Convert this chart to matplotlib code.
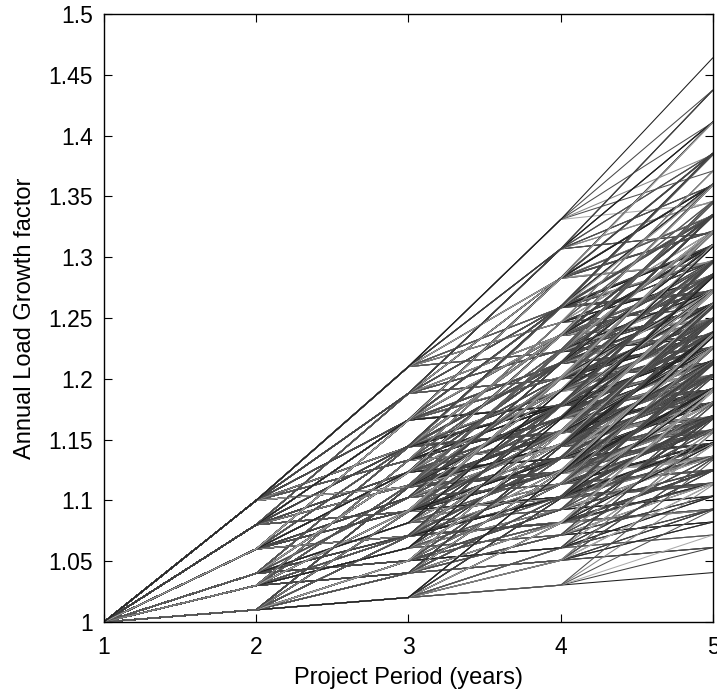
import itertools
import numpy as np
import matplotlib
matplotlib.use("Agg")
import matplotlib.pyplot as plt
from matplotlib.collections import LineCollection

years = [1, 2, 3, 4, 5]
growth_rates = [0.01, 0.03, 0.04, 0.06, 0.08, 0.10]

# grey levels of the (printed) MATLAB colour order: b, g, r, c, m, y, k
line_greys = ['0.11', '0.29', '0.30', '0.53', '0.31', '0.67', '0.25']

xticks = [1, 2, 3, 4, 5]
yticks = [1, 1.05, 1.1, 1.15, 1.2, 1.25, 1.3, 1.35, 1.4, 1.45, 1.5]
ytick_labels = ['1', '1.05', '1.1', '1.15', '1.2', '1.25', '1.3', '1.35', '1.4', '1.45', '1.5']

plt.rcParams['font.family'] = ['Liberation Sans', 'DejaVu Sans']

fig = plt.figure(figsize=(7.17, 6.93), dpi=100)
ax = fig.add_axes([0.145, 0.1025, 0.8494, 0.8773])

# every scenario path: compound the growth factors year by year
# (first year's rate changes fastest, like the columns of a MATLAB matrix)
segs = []
cols = []
for k, combo in enumerate(itertools.product(growth_rates, repeat=len(years) - 1)):
    rates = combo[::-1]
    factors = np.cumprod([1.0] + [1 + r for r in rates])
    segs.append(np.column_stack([years, factors]))
    cols.append(line_greys[k % len(line_greys)])

lc = LineCollection(segs, colors=cols, linewidths=0.75)
ax.add_collection(lc)

ax.set_xlim(1, 5)
ax.set_ylim(1, 1.5)
ax.set_xticks(xticks)
ax.set_yticks(yticks)
ax.set_yticklabels(ytick_labels)
ax.tick_params(direction='in', top=True, right=True, length=6, width=0.8,
               labelsize=16.5, colors='black')
ax.tick_params(axis='x', pad=10)
ax.tick_params(axis='y', pad=8)
for s in ax.spines.values():
    s.set_linewidth(1.0)

ax.set_xlabel('Project Period (years)', fontsize=17, labelpad=6)
ax.set_ylabel('Annual Load Growth factor', fontsize=17, labelpad=9)

fig.savefig('out.png', dpi=100)
